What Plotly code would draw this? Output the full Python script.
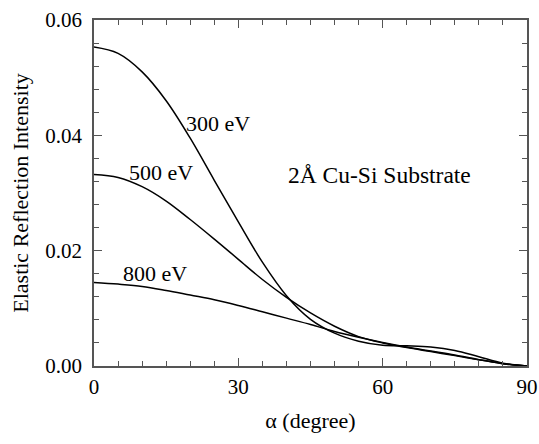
import plotly.graph_objects as go

angle = [0, 5, 10, 15, 20, 25, 30, 35, 40, 45, 50, 55, 60, 65, 70, 75, 80, 85, 90]
i300 = [0.0553, 0.0542, 0.0510, 0.0460, 0.0395, 0.0322, 0.0250, 0.0180, 0.0122,
        0.0081, 0.0057, 0.0043, 0.0036, 0.0035, 0.0033, 0.0027, 0.0016, 0.0005, 0.0]
i500 = [0.0332, 0.0327, 0.0311, 0.0286, 0.0254, 0.0220, 0.0185, 0.0150, 0.0119,
        0.0092, 0.0069, 0.0051, 0.0040, 0.0032, 0.0025, 0.0018, 0.0011, 0.0004, 0.0]
i800 = [0.0145, 0.0142, 0.0138, 0.0131, 0.0123, 0.0115, 0.0105, 0.0094, 0.0083,
        0.0072, 0.0060, 0.0050, 0.0041, 0.0033, 0.0026, 0.0019, 0.0011, 0.0004, 0.0]

series = [("300 eV", i300), ("500 eV", i500), ("800 eV", i800)]
labels = [("300 eV", 25.8, 0.0420), ("500 eV", 14.0, 0.0335), ("800 eV", 12.7, 0.0160)]

FONT = "Liberation Serif"

fig = go.Figure()
for name, vals in series:
    fig.add_trace(go.Scatter(x=angle, y=vals, mode="lines", name=name,
                             line=dict(color="black", width=1.5, shape="spline", smoothing=1.0),
                             showlegend=False, hoverinfo="skip"))

for txt, x, y in labels:
    fig.add_annotation(x=x, y=y, text=txt, showarrow=False, xanchor="center", yanchor="middle",
                       font=dict(family=FONT, size=22, color="black"))

fig.add_annotation(x=59.3, y=0.0332, text="2Å Cu-Si Substrate", showarrow=False,
                   xanchor="center", yanchor="middle",
                   font=dict(family=FONT, size=23.5, color="black"))

axis_common = dict(showline=True, linecolor="#555", linewidth=1.5, mirror="ticks",
                   ticks="inside", ticklen=8, tickwidth=1.2, tickcolor="#555",
                   showgrid=False, zeroline=False,
                   tickfont=dict(family=FONT, size=21, color="black"))

fig.update_xaxes(range=[0, 90], tick0=0, dtick=30, automargin="bottom",
                 minor=dict(dtick=5, ticks="inside", ticklen=5, tickcolor="#555", tickwidth=1.2, showgrid=False),
                 title=dict(text="α (degree)", font=dict(family=FONT, size=22, color="black"), standoff=15),
                 ticklabelstandoff=1,
                 **axis_common)
fig.update_yaxes(range=[0, 0.06], tick0=0, dtick=0.02, tickformat=".2f", automargin="left",
                 minor=dict(dtick=0.004, ticks="inside", ticklen=5, tickcolor="#555", tickwidth=1.2, showgrid=False),
                 title=dict(text="Elastic Reflection Intensity", font=dict(family=FONT, size=22, color="black"), standoff=11),
                 ticklabelstandoff=6,
                 **axis_common)

fig.update_layout(width=539, height=444, margin=dict(l=94, r=12, t=20, b=78),
                  paper_bgcolor="white", plot_bgcolor="white",
                  font=dict(family=FONT))

fig.write_html("out.html", config={"displayModeBar": False},
               post_script="document.body.style.margin='0';")
